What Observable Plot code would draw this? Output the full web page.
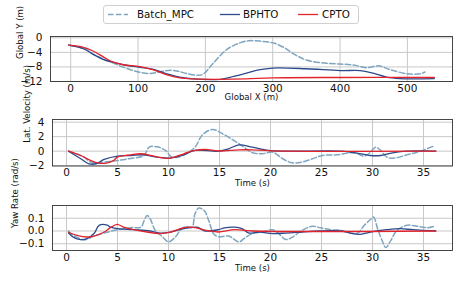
<!DOCTYPE html>
<html>
<head>
<meta charset="utf-8">
<script src="https://cdn.jsdelivr.net/npm/d3@7"></script>
<script src="https://cdn.jsdelivr.net/npm/@observablehq/plot@0.6"></script>
<style>
  html, body { margin: 0; padding: 0; background: white; }
  #root { position: relative; width: 463px; height: 286px; font-family: "DejaVu Sans", sans-serif; overflow: hidden; background: white; }
  .panel { position: absolute; left: 0; }
  .panel svg { overflow: visible; }
  #legend { position: absolute; left: 103px; top: 5px; width: 254px; height: 17px; border: 1px solid #d0d0d0; border-radius: 3px; background: white; font-size: 10.3px; color: #111; }
  #legend .item { position: absolute; top: 0; height: 17px; line-height: 17px; white-space: nowrap; }
  #legend svg { position: absolute; top: 0; }
</style>
</head>
<body>
<div id="root">
  <div id="p1" class="panel" style="top:0px"></div>
  <div id="p2" class="panel" style="top:110px"></div>
  <div id="p3" class="panel" style="top:195px"></div>
  <div id="legend"></div>
</div>
<script>
// ---------- data ----------
const seriesNames = ["Batch_MPC", "BPHTO", "CPTO"];
const seriesColors = ["#7fa6c0", "#2c4a8c", "#e2232c"];

// Panel 1: Global Y vs Global X
const pathX_batch = [-3, 20, 35, 50, 63, 73, 88, 103, 118, 133, 148, 160, 172, 190, 198, 212, 232, 251, 265, 280, 295, 303, 318, 331, 350, 380, 400, 420, 440, 457, 474, 500, 519, 526];
const pathY_batch = [-2.0, -3.0, -4.6, -6.0, -6.9, -7.7, -8.7, -9.5, -9.8, -9.3, -8.9, -9.2, -9.8, -10.3, -9.8, -6.9, -3.2, -1.4, -0.8, -0.9, -1.2, -1.5, -2.8, -4.4, -6.1, -7.0, -7.2, -7.5, -8.2, -7.7, -8.7, -9.9, -9.9, -9.4];
const pathX_bphto = [-3, 19, 34, 49, 63, 78, 103, 123, 143, 162, 182, 222, 242, 261, 279, 300, 350, 400, 430, 449, 469, 489, 540];
const pathY_bphto = [-2.0, -3.0, -4.6, -6.0, -6.7, -7.4, -8.1, -8.7, -9.9, -10.8, -11.3, -11.4, -10.6, -9.7, -8.8, -8.3, -8.5, -9.0, -9.0, -9.7, -10.8, -11.2, -11.2];
const pathX_cpto = [-3, 19, 34, 49, 63, 78, 103, 123, 143, 162, 182, 220, 260, 300, 400, 540];
const pathY_cpto = [-2.0, -2.6, -3.7, -5.3, -6.7, -7.4, -7.9, -8.8, -10.2, -11.0, -11.3, -11.4, -11.3, -11.0, -10.9, -10.9];
const xTicks1 = [0, 100, 200, 300, 400, 500];
const yTicks1 = [0, -4, -8, -12];

// Panel 2: lateral velocity vs time
const velT_batch = [0.2, 1.0, 1.7, 2.35, 3.0, 3.7, 5.0, 6.3, 7.6, 8.1, 8.9, 9.7, 10.3, 11.0, 11.7, 12.6, 13.3, 14.3, 15.3, 16.6, 17.4, 18.2, 19.2, 20.2, 21.2, 22.1, 23.1, 24.1, 25.1, 26.5, 28.2, 29.2, 29.8, 30.3, 30.8, 31.4, 32.1, 33.4, 34.7, 36.0];
const velV_batch = [0, -0.4, -0.8, -1.5, -1.65, -1.5, -1.3, -1.0, -0.6, 0.55, 0.6, 0.1, -0.8, -0.8, -0.37, 0.55, 2.2, 3.0, 2.4, 1.3, 0.55, -0.2, -0.36, -0.14, -1.05, -1.6, -1.5, -1.05, -0.6, -0.5, -0.23, -0.68, -0.14, 0.55, 0.1, -0.82, -0.96, -0.5, 0, 0.7];
const velT_bphto = [0.2, 1.4, 2.2, 2.9, 3.7, 5.0, 6.3, 7.6, 8.9, 10.2, 11.5, 12.6, 14.9, 15.9, 16.9, 18.2, 19.8, 21.5, 27.0, 28.2, 29.8, 30.8, 32.1, 33.4, 36.2];
const velV_bphto = [0, -1.05, -1.74, -1.74, -1.14, -0.68, -0.6, -0.5, -0.82, -0.96, -0.5, 0.1, 0, 0.33, 0.87, 0.55, 0.1, 0, 0, -0.2, -0.6, -0.6, -0.2, 0, 0];
const velT_cpto = [0.2, 1.4, 2.4, 3.2, 3.9, 4.6, 5.0, 6.3, 7.3, 8.3, 9.2, 10.2, 11.5, 12.6, 13.6, 14.9, 16.9, 18.2, 20.0, 36.2];
const velV_cpto = [0, -0.6, -1.3, -1.65, -1.65, -1.3, -0.82, -0.5, -0.36, -0.6, -0.9, -0.96, -0.36, 0.1, 0.23, 0.02, 0.18, 0.18, 0.05, 0];
const yTicks2 = [-2, 0, 2, 4];

// Panel 3: yaw rate vs time
const yawT_batch = [0.2, 0.4, 1.05, 1.7, 2.7, 3.7, 5.0, 6.3, 7.3, 7.6, 7.9, 8.2, 8.7, 9.4, 10.0, 10.7, 11.2, 11.7, 12.3, 12.6, 12.97, 13.5, 14.0, 14.4, 14.9, 15.9, 16.9, 17.4, 18.2, 19.2, 20.2, 20.8, 21.5, 22.1, 23.1, 24.1, 24.9, 25.9, 26.9, 27.8, 28.5, 29.2, 29.8, 30.1, 30.5, 31.0, 31.3, 31.8, 32.4, 33.4, 34.4, 35.4, 36.0];
const yawV_batch = [0, -0.02, -0.05, -0.07, -0.04, -0.016, 0.01, 0.026, 0.03, 0.08, 0.122, 0.096, 0.005, -0.045, -0.085, -0.045, 0.01, 0.035, 0.03, 0.135, 0.18, 0.16, 0.07, -0.02, -0.046, -0.04, -0.086, -0.06, -0.02, -0.007, 0.01, -0.02, -0.067, -0.05, 0.005, 0.037, 0.025, 0.01, 0.005, -0.015, -0.02, 0.045, 0.09, 0.11, 0.018, -0.086, -0.13, -0.073, 0.005, 0.045, 0.037, 0.026, 0.037];
const yawT_bphto = [0.2, 0.7, 1.37, 2.0, 2.7, 3.2, 4.0, 4.3, 5.0, 6.6, 8.2, 9.2, 10.2, 11.5, 12.2, 12.8, 13.6, 14.9, 15.5, 16.5, 17.2, 17.9, 18.9, 20.2, 21.5, 23.1, 24.7, 27.0, 27.8, 28.8, 29.8, 31.4, 32.7, 34.0, 36.2];
const yawV_bphto = [-0.016, -0.05, -0.067, -0.06, -0.02, 0.044, 0.046, 0.03, 0.018, 0.01, 0, -0.016, -0.008, 0.018, 0.026, 0.03, 0, 0.01, 0.025, 0.03, 0.018, -0.016, -0.008, -0.02, -0.016, -0.008, 0, 0, -0.016, -0.026, -0.008, 0.01, 0.018, 0.01, 0];
const yawT_cpto = [0.2, 1.05, 2.0, 2.7, 3.7, 4.3, 4.97, 5.6, 6.6, 7.9, 9.2, 10.2, 11.5, 12.2, 12.6, 14.0, 14.9, 16.5, 18.2, 36.2];
const yawV_cpto = [-0.01, -0.034, -0.047, -0.04, -0.008, 0.026, 0.052, 0.03, 0.01, -0.008, -0.02, -0.008, 0.026, 0.03, 0.026, 0, -0.008, 0.01, 0, 0];
const yTicks3 = [-0.1, 0.0, 0.1];
const tTicks = [0, 5, 10, 15, 20, 25, 30, 35];

// ---------- helpers ----------
const zip = (xs, ys, s) => xs.map((x, i) => ({x, y: ys[i], s}));
const colorScale = {domain: seriesNames, range: seriesColors};

function lines(data) {
  const [b, p, c] = data;
  return [
    Plot.line(b, {x: "x", y: "y", stroke: "s", strokeWidth: 1.5, strokeDasharray: "5.5,2.4", curve: "catmull-rom"}),
    Plot.line(p, {x: "x", y: "y", stroke: "s", strokeWidth: 1.3, curve: "catmull-rom"}),
    Plot.line(c, {x: "x", y: "y", stroke: "s", strokeWidth: 1.3, curve: "catmull-rom"})
  ];
}

function panel({height, marginTop, marginBottom, marginLeft, xDomain, yDomain, xTicks, yTicks, yFormat, data, xLabel, yLabel, yLabelDx, xLabelDy}) {
  return Plot.plot({
    width: 463, height, marginTop, marginBottom, marginLeft, marginRight: 11,
    style: {fontFamily: "DejaVu Sans, sans-serif", fontSize: "10.5px", background: "transparent", color: "#111", overflow: "visible"},
    x: {domain: xDomain},
    y: {domain: yDomain},
    color: colorScale,
    marks: [
      Plot.gridX(xTicks, {stroke: "#c8c8c8", strokeOpacity: 1, strokeWidth: 1}),
      Plot.gridY(yTicks, {stroke: "#c8c8c8", strokeOpacity: 1, strokeWidth: 1}),
      Plot.axisX(xTicks, {tickSize: 0, tickPadding: 3, label: null}),
      Plot.axisY(yTicks, {tickSize: 0, tickPadding: 8, label: null, tickFormat: yFormat}),
      ...lines(data),
      Plot.frame({stroke: "#333", strokeWidth: 0.9}),
      Plot.text([xLabel], {frameAnchor: "bottom", dy: xLabelDy, text: d => d, fontSize: 8.6, fill: "#111"}),
      Plot.text([yLabel], {frameAnchor: "left", dx: yLabelDx, rotate: -90, text: d => d, fontSize: 8.6, fill: "#111"})
    ]
  });
}

document.getElementById("p1").appendChild(panel({
  height: 110, marginTop: 36, marginBottom: 29, marginLeft: 50,
  xDomain: [-30, 567], yDomain: [-12, 0.36], xTicks: xTicks1, yTicks: yTicks1, yFormat: d3.format("d"),
  data: [zip(pathX_batch, pathY_batch, "Batch_MPC"), zip(pathX_bphto, pathY_bphto, "BPHTO"), zip(pathX_cpto, pathY_cpto, "CPTO")],
  xLabel: "Global X (m)", yLabel: "Global Y (m)", yLabelDx: -30, xLabelDy: 18.5
}));

document.getElementById("p2").appendChild(panel({
  height: 85, marginTop: 9, marginBottom: 29.5, marginLeft: 52,
  xDomain: [-1.37, 37.84], yDomain: [-2.05, 4.37], xTicks: tTicks, yTicks: yTicks2, yFormat: d3.format("d"),
  data: [zip(velT_batch, velV_batch, "Batch_MPC"), zip(velT_bphto, velV_bphto, "BPHTO"), zip(velT_cpto, velV_cpto, "CPTO")],
  xLabel: "Time (s)", yLabel: "Lat. Velocity (m/s)", yLabelDx: -25, xLabelDy: 19.5
}));

document.getElementById("p3").appendChild(panel({
  height: 91, marginTop: 10, marginBottom: 36, marginLeft: 52,
  xDomain: [-1.37, 37.84], yDomain: [-0.153, 0.2], xTicks: tTicks, yTicks: yTicks3, yFormat: d3.format(".1f"),
  data: [zip(yawT_batch, yawV_batch, "Batch_MPC"), zip(yawT_bphto, yawV_bphto, "BPHTO"), zip(yawT_cpto, yawV_cpto, "CPTO")],
  xLabel: "Time (s)", yLabel: "Yaw Rate (rad/s)", yLabelDx: -37, xLabelDy: 20
}));

// ---------- legend ----------
const legend = document.getElementById("legend");
const legendPos = [{line: 3, text: 33}, {line: 115, text: 139}, {line: 193, text: 218}];
seriesNames.forEach((name, i) => {
  const ns = "http://www.w3.org/2000/svg";
  const svg = document.createElementNS(ns, "svg");
  svg.setAttribute("width", 22); svg.setAttribute("height", 17);
  svg.style.left = legendPos[i].line + "px";
  const ln = document.createElementNS(ns, "line");
  ln.setAttribute("x1", 1); ln.setAttribute("x2", 21); ln.setAttribute("y1", 8.5); ln.setAttribute("y2", 8.5);
  ln.setAttribute("stroke", seriesColors[i]);
  ln.setAttribute("stroke-width", i === 0 ? 1.5 : 1.3);
  if (i === 0) ln.setAttribute("stroke-dasharray", "5.5,2.4");
  svg.appendChild(ln);
  legend.appendChild(svg);
  const t = document.createElement("div");
  t.className = "item"; t.style.left = legendPos[i].text + "px"; t.textContent = name;
  legend.appendChild(t);
});
</script>
</body>
</html>
